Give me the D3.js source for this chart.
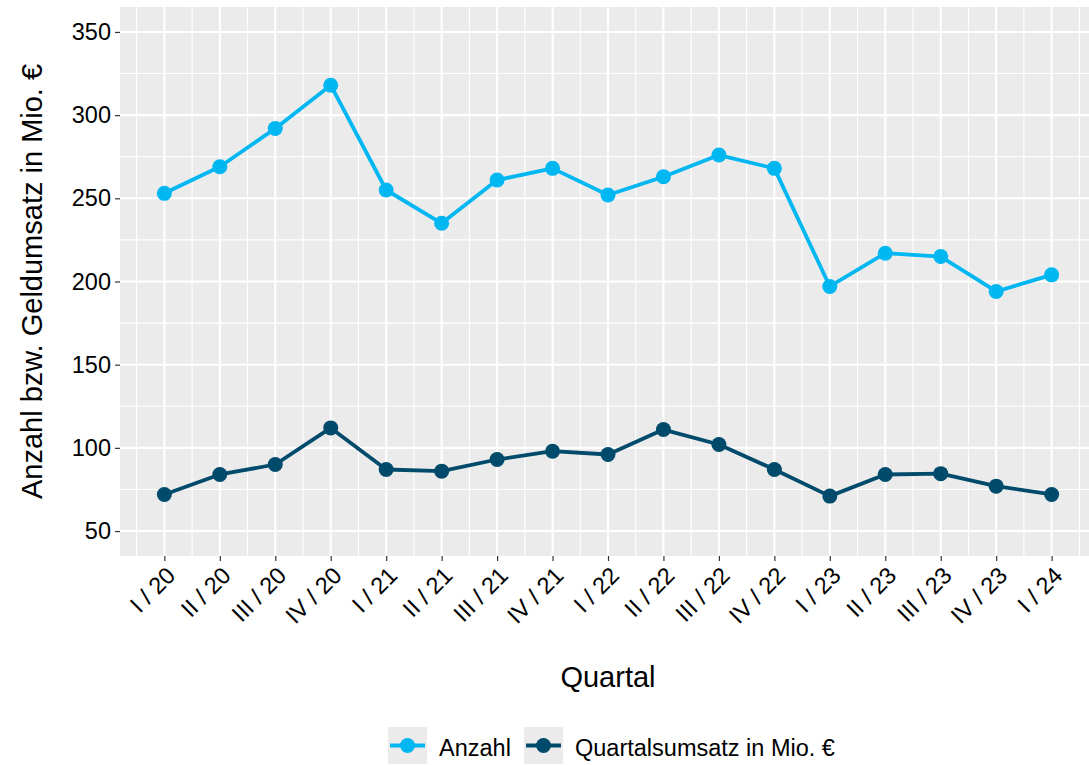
<!DOCTYPE html>
<html>
<head>
<meta charset="utf-8">
<script src="https://cdn.jsdelivr.net/npm/d3@7"></script>
<style>
  html, body { margin: 0; padding: 0; background: #ffffff; }
  svg { display: block; font-family: "Liberation Sans", Arial, sans-serif; }
</style>
</head>
<body>
<svg id="chart" width="1089" height="765"></svg>
<script>
// ---- data ----
const quarters = ["I / 20","II / 20","III / 20","IV / 20","I / 21","II / 21","III / 21","IV / 21",
                  "I / 22","II / 22","III / 22","IV / 22","I / 23","II / 23","III / 23","IV / 23","I / 24"];
const anzahl = [253, 269, 292, 318, 255, 235, 261, 268, 252, 263, 276, 268, 197, 217, 215, 194, 204];
const umsatz = [72, 84, 90, 112, 87, 86, 93, 98, 96, 111, 102, 87, 71, 84, 84.5, 77, 72];
const yTicks = [50, 100, 150, 200, 250, 300, 350];
const seriesNames = ["Anzahl", "Quartalsumsatz in Mio. €"];
const seriesColors = ["#00B7F1", "#004B6B"];
const xTitle = "Quartal";
const yTitle = "Anzahl bzw. Geldumsatz in Mio. €";

// ---- layout ----
const svg = d3.select("#chart");
const panel = { left: 120, right: 1096, top: 7, bottom: 556 };
const tickFont = "23.5px", titleFont = "29px";

const x = d3.scaleLinear().domain([-0.8, quarters.length - 1 + 0.8]).range([panel.left, panel.right]);
const y = d3.scaleLinear().domain([35, 365]).range([panel.bottom, panel.top]);

// panel background
svg.append("rect")
  .attr("x", panel.left).attr("y", panel.top)
  .attr("width", panel.right - panel.left).attr("height", panel.bottom - panel.top)
  .attr("fill", "#EBEBEB");

const grid = svg.append("g");
// minor gridlines
const yMinor = d3.range(yTicks.length - 1).map(i => (yTicks[i] + yTicks[i + 1]) / 2);
const xMinor = d3.range(-0.5, quarters.length, 1);
grid.selectAll("line.ymin").data(yMinor).join("line")
  .attr("x1", panel.left).attr("x2", panel.right)
  .attr("y1", d => y(d)).attr("y2", d => y(d))
  .attr("stroke", "#ffffff").attr("stroke-width", 1.1);
grid.selectAll("line.xmin").data(xMinor).join("line")
  .attr("y1", panel.top).attr("y2", panel.bottom)
  .attr("x1", d => x(d)).attr("x2", d => x(d))
  .attr("stroke", "#ffffff").attr("stroke-width", 1.1);
// major gridlines
grid.selectAll("line.ymaj").data(yTicks).join("line")
  .attr("x1", panel.left).attr("x2", panel.right)
  .attr("y1", d => y(d)).attr("y2", d => y(d))
  .attr("stroke", "#ffffff").attr("stroke-width", 2.1);
grid.selectAll("line.xmaj").data(quarters.map((q, i) => i)).join("line")
  .attr("y1", panel.top).attr("y2", panel.bottom)
  .attr("x1", d => x(d)).attr("x2", d => x(d))
  .attr("stroke", "#ffffff").attr("stroke-width", 2.1);

// axes
const yAxis = svg.append("g")
  .attr("transform", `translate(${panel.left},0)`)
  .call(d3.axisLeft(y).tickValues(yTicks).tickSize(5).tickPadding(4).tickFormat(d3.format("d")));
yAxis.select(".domain").remove();
yAxis.selectAll(".tick line").attr("stroke", "#333333").attr("stroke-width", 1.2);
yAxis.selectAll(".tick text").attr("fill", "#000").style("font-size", tickFont)
  .style("font-family", "'Liberation Sans', Arial, sans-serif");

const xAxis = svg.append("g")
  .attr("transform", `translate(0,${panel.bottom})`)
  .call(d3.axisBottom(x).tickValues(quarters.map((q, i) => i)).tickSize(5).tickFormat(i => quarters[i]));
xAxis.select(".domain").remove();
xAxis.selectAll(".tick line").attr("stroke", "#333333").attr("stroke-width", 1.2);
xAxis.selectAll(".tick text")
  .attr("fill", "#000").style("font-size", tickFont)
  .style("font-family", "'Liberation Sans', Arial, sans-serif")
  .attr("text-anchor", "end")
  .attr("x", 0).attr("y", 0).attr("dy", "0.72em")
  .attr("transform", "translate(0,9) rotate(-45)");

// axis titles
svg.append("text")
  .attr("x", (panel.left + panel.right) / 2).attr("y", 687)
  .attr("text-anchor", "middle").style("font-size", titleFont).attr("fill", "#000")
  .text(xTitle);
svg.append("text")
  .attr("transform", `translate(42,${(panel.top + panel.bottom) / 2}) rotate(-90)`)
  .attr("text-anchor", "middle").style("font-size", titleFont).attr("fill", "#000")
  .text(yTitle);

// lines and points
const series = [anzahl, umsatz];
const line = d3.line().x((d, i) => x(i)).y(d => y(d));
series.forEach((vals, s) => {
  svg.append("path").datum(vals)
    .attr("d", line).attr("fill", "none")
    .attr("stroke", seriesColors[s]).attr("stroke-width", 3.8)
    .attr("stroke-linejoin", "round");
  svg.append("g").selectAll("circle").data(vals).join("circle")
    .attr("cx", (d, i) => x(i)).attr("cy", d => y(d)).attr("r", 7.5)
    .attr("fill", seriesColors[s]);
});

// legend
const legend = svg.append("g");
const keyW = 39, keyH = 37, keyY = 727;
const legendItems = [
  { key: 388, text: 439 },
  { key: 524, text: 575 }
];
legendItems.forEach((it, s) => {
  legend.append("rect").attr("x", it.key).attr("y", keyY).attr("width", keyW).attr("height", keyH).attr("fill", "#EBEBEB");
  legend.append("line")
    .attr("x1", it.key + 2).attr("x2", it.key + keyW - 2)
    .attr("y1", keyY + keyH / 2).attr("y2", keyY + keyH / 2)
    .attr("stroke", seriesColors[s]).attr("stroke-width", 3.8);
  legend.append("circle").attr("cx", it.key + keyW / 2).attr("cy", keyY + keyH / 2).attr("r", 7.5).attr("fill", seriesColors[s]);
  legend.append("text").attr("x", it.text).attr("y", 756)
    .style("font-size", tickFont).attr("fill", "#000").text(seriesNames[s]);
});
</script>
</body>
</html>
